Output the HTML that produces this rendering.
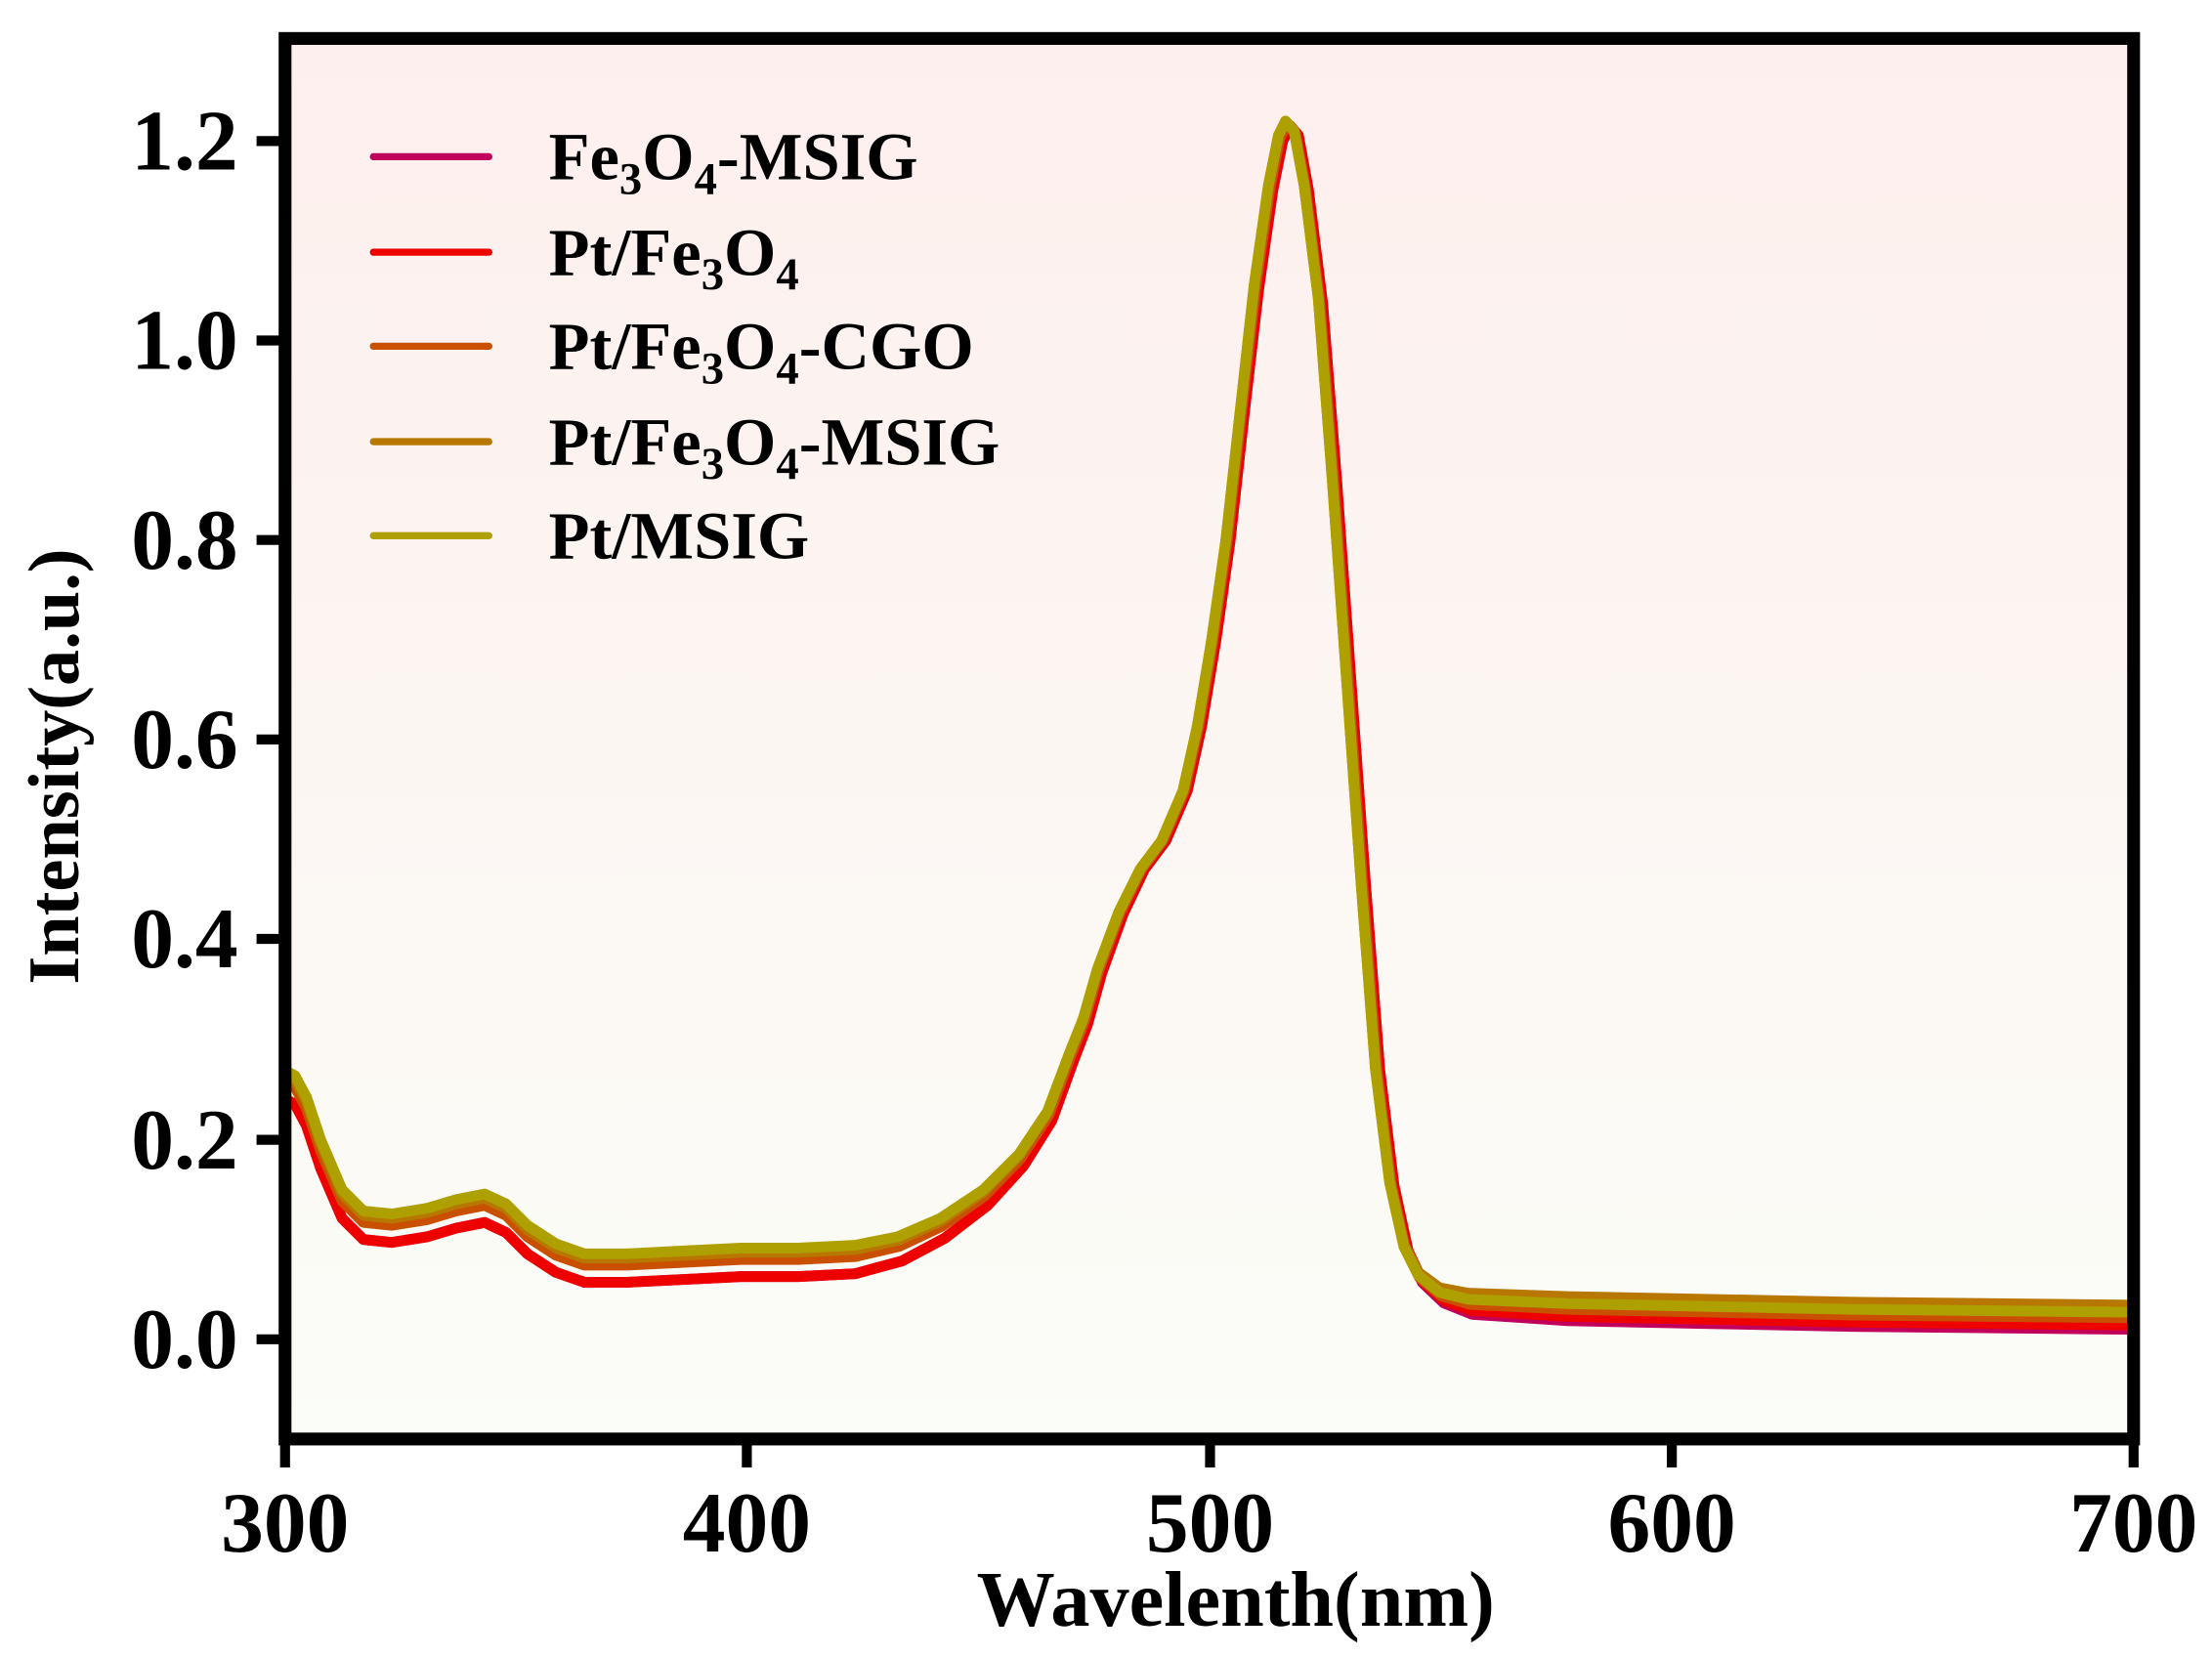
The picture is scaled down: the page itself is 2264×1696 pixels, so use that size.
<!DOCTYPE html>
<html><head><meta charset="utf-8"><style>
html,body{margin:0;padding:0;background:#fff;}
svg{display:block;}
text{font-family:"Liberation Serif",serif;font-weight:bold;fill:#000;}
</style></head><body>
<svg id="s" width="2264" height="1696" viewBox="0 0 1552 1163" preserveAspectRatio="none" xmlns="http://www.w3.org/2000/svg">
<defs><linearGradient id="bg" x1="0" y1="0" x2="0" y2="1">
<stop offset="0" stop-color="#fdefed"/><stop offset="1" stop-color="#fbfdf8"/></linearGradient></defs>
<rect x="200" y="27" width="1297" height="983" fill="url(#bg)"/>
<g id="curves" fill="none" stroke-width="7.5" stroke-linejoin="round" stroke-linecap="round"></g>
<rect x="200" y="27" width="1297" height="983" fill="none" stroke="#000" stroke-width="9"/>
<g stroke="#000" stroke-width="7">
<line x1="200" y1="1010" x2="200" y2="1030"/><line x1="524" y1="1010" x2="524" y2="1030"/><line x1="849" y1="1010" x2="849" y2="1030"/><line x1="1173" y1="1010" x2="1173" y2="1030"/><line x1="1497" y1="1010" x2="1497" y2="1030"/>
<line x1="180" y1="940" x2="200" y2="940"/><line x1="180" y1="800" x2="200" y2="800"/><line x1="180" y1="659" x2="200" y2="659"/><line x1="180" y1="519" x2="200" y2="519"/><line x1="180" y1="379" x2="200" y2="379"/><line x1="180" y1="239" x2="200" y2="239"/><line x1="180" y1="99" x2="200" y2="99"/>
</g>
<g font-size="60" text-anchor="middle">
<text x="200" y="1089">300</text><text x="524" y="1089">400</text><text x="849" y="1089">500</text><text x="1173" y="1089">600</text><text x="1497" y="1089">700</text>
</g>
<g font-size="60" text-anchor="end">
<text x="167" y="960">0.0</text><text x="167" y="820">0.2</text><text x="167" y="679">0.4</text><text x="167" y="539">0.6</text><text x="167" y="399">0.8</text><text x="167" y="259">1.0</text><text x="167" y="119">1.2</text>
</g>
<text x="867" y="1141" font-size="55" text-anchor="middle">Wavelenth(nm)</text>
<text transform="translate(55,538) rotate(-90)" font-size="51" text-anchor="middle">Intensity(a.u.)</text>
<g stroke-width="5" stroke-linecap="round">
<line x1="262" y1="110" x2="343" y2="110" stroke="#c0005a"/>
<line x1="262" y1="177" x2="343" y2="177" stroke="#ee0000"/>
<line x1="262" y1="243" x2="343" y2="243" stroke="#c85000"/>
<line x1="262" y1="310" x2="343" y2="310" stroke="#b87800"/>
<line x1="262" y1="376" x2="343" y2="376" stroke="#aea000"/>
</g>
<g font-size="47">
<text x="385" y="126">Fe<tspan font-size="32" dy="10">3</tspan><tspan dy="-10">O</tspan><tspan font-size="32" dy="10">4</tspan><tspan dy="-10">-MSIG</tspan></text>
<text x="385" y="193">Pt/Fe<tspan font-size="32" dy="10">3</tspan><tspan dy="-10">O</tspan><tspan font-size="32" dy="10">4</tspan></text>
<text x="385" y="259">Pt/Fe<tspan font-size="32" dy="10">3</tspan><tspan dy="-10">O</tspan><tspan font-size="32" dy="10">4</tspan><tspan dy="-10">-CGO</tspan></text>
<text x="385" y="326">Pt/Fe<tspan font-size="32" dy="10">3</tspan><tspan dy="-10">O</tspan><tspan font-size="32" dy="10">4</tspan><tspan dy="-10">-MSIG</tspan></text>
<text x="385" y="392">Pt/MSIG</text>
</g>
</svg>
<script>
var P=[[201,752],[207,755],[215,770],[225,800],[240,835],[255,850],[275,852],[300,848],[320,842],[340,838],[355,845],[370,860],[390,873],[410,880],[440,880],[480,878],[520,876],[560,876],[600,874],[630,868],[660,855],[690,835],[715,810],[735,780],[750,740],[760,715],[770,680],[785,640],[800,610],[815,590],[830,555],[840,510],[850,450],[860,380],[870,290],[880,200],[890,130],[897,95],[902,85],[908,92],[915,130],[925,210],[935,340],[945,480],[955,620],[965,750],[975,830],[985,875],[995,895],[1010,907],[1030,912],[1100,915],[1200,917],[1300,919],[1400,920],[1496,921]];
var S=[["#c0005a",20,12,3,4],["#ee0000",20,9,3,3],["#c85000",8,4,1,2],["#b87800",3,-5,0,0],["#aea000",0,0,0,0]];
var g=document.getElementById("curves"),ns="http://www.w3.org/2000/svg";
S.forEach(function(s){var a=s[1],b=s[2],dx=s[3],pk=s[4];var d="";
P.forEach(function(p,i){var x=p[0],o;
if(x<=600)o=a;else if(x<800)o=a*(800-x)/200;else if(x<=960)o=0;else if(x<1040)o=b*(x-960)/80;else o=b;
if(x>870&&x<930)o+=pk;
var xx=Math.min(1496,Math.max(201,x+(x>600&&x<1040?dx:0)));
d+=(i?"L":"M")+xx+","+(p[1]+o);});
var e=document.createElementNS(ns,"path");e.setAttribute("d",d);e.setAttribute("stroke",s[0]);g.appendChild(e);});
</script>
</body></html>
